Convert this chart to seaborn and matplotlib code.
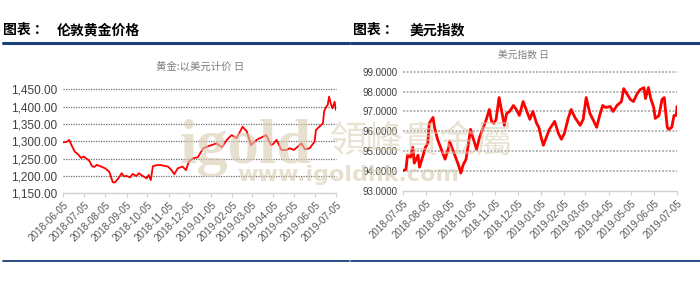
import matplotlib
matplotlib.use("Agg")
import matplotlib.pyplot as plt
from matplotlib.ticker import FuncFormatter
import seaborn as sns
import pandas as pd

# ---------------- data ----------------
gold_dates = [
    "2018-06-05", "2018-06-10", "2018-06-14", "2018-06-17", "2018-06-22", "2018-06-27",
    "2018-07-01", "2018-07-05", "2018-07-09", "2018-07-13", "2018-07-17", "2018-07-20",
    "2018-07-24", "2018-07-28", "2018-08-05", "2018-08-11", "2018-08-14", "2018-08-16",
    "2018-08-19", "2018-08-24", "2018-08-29", "2018-09-01", "2018-09-05", "2018-09-10",
    "2018-09-14", "2018-09-19", "2018-09-23", "2018-09-26", "2018-10-04", "2018-10-07",
    "2018-10-10", "2018-10-13", "2018-10-18", "2018-10-23", "2018-10-30", "2018-11-04",
    "2018-11-09", "2018-11-13", "2018-11-18", "2018-11-25", "2018-11-30", "2018-12-04",
    "2018-12-10", "2018-12-17", "2018-12-25", "2019-01-03", "2019-01-13", "2019-01-21",
    "2019-01-28", "2019-02-04", "2019-02-11", "2019-02-20", "2019-02-26", "2019-03-04",
    "2019-03-12", "2019-03-21", "2019-03-26", "2019-04-02", "2019-04-05", "2019-04-10",
    "2019-04-17", "2019-04-24", "2019-04-29", "2019-05-05", "2019-05-11", "2019-05-16",
    "2019-05-21", "2019-05-28", "2019-06-04", "2019-06-06", "2019-06-11", "2019-06-16",
    "2019-06-18", "2019-06-21", "2019-06-23", "2019-06-25", "2019-06-28", "2019-06-30",
    "2019-07-03", "2019-07-05",
]
gold_values = [
    1297, 1298, 1304, 1290, 1270, 1262,
    1252, 1256, 1250, 1244, 1228, 1226,
    1232, 1229, 1222, 1212, 1194, 1182,
    1181, 1193, 1208, 1199, 1200, 1196,
    1206, 1200, 1208, 1203, 1193, 1203,
    1188, 1228, 1231, 1232, 1229, 1227,
    1217, 1205, 1222, 1227, 1217, 1241,
    1251, 1254, 1280, 1287, 1294, 1283,
    1304, 1318, 1309, 1342, 1328, 1289,
    1304, 1313, 1318, 1289, 1292, 1304,
    1275, 1275, 1280, 1275, 1285, 1294,
    1277, 1280, 1299, 1333, 1342, 1352,
    1388, 1400, 1405, 1429, 1405, 1395,
    1414, 1390,
]

usd_dates = [
    "2018-07-05", "2018-07-09", "2018-07-11", "2018-07-15", "2018-07-18", "2018-07-20",
    "2018-07-25", "2018-07-27", "2018-07-31", "2018-08-04", "2018-08-07", "2018-08-09",
    "2018-08-14", "2018-08-16", "2018-08-20", "2018-08-25", "2018-08-30", "2018-09-04",
    "2018-09-05", "2018-09-09", "2018-09-14", "2018-09-17", "2018-09-20", "2018-09-23",
    "2018-09-27", "2018-10-01", "2018-10-03", "2018-10-06", "2018-10-11", "2018-10-15",
    "2018-10-19", "2018-10-24", "2018-10-28", "2018-10-31", "2018-11-03", "2018-11-06",
    "2018-11-10", "2018-11-13", "2018-11-17", "2018-11-20", "2018-11-24", "2018-11-29",
    "2018-12-03", "2018-12-07", "2018-12-12", "2018-12-16", "2018-12-21", "2018-12-25",
    "2018-12-30", "2019-01-02", "2019-01-05", "2019-01-08", "2019-01-12", "2019-01-16",
    "2019-01-23", "2019-01-28", "2019-02-01", "2019-02-05", "2019-02-10", "2019-02-14",
    "2019-02-19", "2019-02-26", "2019-03-02", "2019-03-06", "2019-03-11", "2019-03-15",
    "2019-03-20", "2019-03-24", "2019-03-28", "2019-04-01", "2019-04-07", "2019-04-11",
    "2019-04-16", "2019-04-22", "2019-04-25", "2019-04-29", "2019-05-04", "2019-05-08",
    "2019-05-13", "2019-05-17", "2019-05-22", "2019-05-24", "2019-05-28", "2019-05-31",
    "2019-06-04", "2019-06-06", "2019-06-11", "2019-06-15", "2019-06-18", "2019-06-22",
    "2019-06-24", "2019-06-28", "2019-07-01", "2019-07-04", "2019-07-05",
]
usd_values = [
    94.02, 94.09, 94.80, 94.70, 95.20, 94.40,
    94.80, 94.20, 94.70, 95.20, 95.40, 96.40,
    96.70, 96.20, 95.60, 95.10, 94.60, 95.20,
    95.50, 95.10, 94.60, 94.30, 93.90, 94.30,
    94.60, 95.60, 96.10, 95.70, 95.10, 95.70,
    96.10, 96.60, 97.10, 96.50, 96.40, 96.60,
    97.70, 97.10, 96.30, 96.90, 97.00, 97.30,
    97.10, 96.80, 97.50, 97.10, 96.60, 97.00,
    96.40, 96.20, 95.70, 95.30, 95.70, 96.10,
    96.50, 95.90, 95.60, 95.90, 96.65, 97.10,
    96.70, 96.30, 96.60, 97.70, 96.90, 96.60,
    96.20, 96.80, 97.30, 97.20, 97.25, 97.00,
    97.30, 97.50, 98.15, 97.90, 97.60, 97.50,
    97.90, 98.10, 98.20, 97.65, 98.20, 97.65,
    97.20, 96.65, 96.80, 97.60, 97.70, 96.20,
    96.10, 96.20, 96.80, 96.80, 97.25,
]

gold_ticks = ["2018-06-05", "2018-07-05", "2018-08-05", "2018-09-05", "2018-10-05",
              "2018-11-05", "2018-12-05", "2019-01-05", "2019-02-05", "2019-03-05",
              "2019-04-05", "2019-05-05", "2019-06-05", "2019-07-05"]
usd_ticks = gold_ticks[1:]
gold_yticks = [1150, 1200, 1250, 1300, 1350, 1400, 1450]
usd_yticks = [93, 94, 95, 96, 97, 98, 99]

# ---------------- figure ----------------
sns.set_theme(style="white")
plt.rcParams["font.family"] = ["Liberation Sans", "Noto Sans CJK SC", "DejaVu Sans"]
CJK = ["Noto Sans CJK SC", "DejaVu Sans"]

fig = plt.figure(figsize=(7.0, 2.88), dpi=100)
W, H = 700, 288

def fx(px):
    return px / W

def fy(py):
    return 1 - py / H

navy = "#1a3f7a"

# watermark (drawn first, behind everything)
wm = "#d8ccb0"
fig.text(fx(180), fy(163), "igold", family=["Liberation Serif", "DejaVu Serif"],
         fontsize=45, fontweight="bold", color=wm, alpha=0.6, ha="left", va="baseline",
         zorder=0)
fig.text(fx(330), fy(141), "領峰貴金屬", family=["Noto Sans CJK TC", "DejaVu Sans"],
         fontsize=26.5, color=wm, alpha=0.55, ha="left", va="center", zorder=0)
fig.text(fx(237), fy(175), "www.igoldhk.com", family=["DejaVu Sans"],
         fontsize=16, fontweight="bold", color=wm, alpha=0.6, ha="left", va="center",
         zorder=0)

# header titles and rules
fig.text(fx(3), fy(30), "图表 ：", family=CJK, fontsize=10, fontweight="bold",
         color="black", va="center", ha="left")
fig.text(fx(57), fy(30), "伦敦黄金价格", family=CJK, fontsize=10, fontweight="bold",
         color="black", va="center", ha="left")
fig.text(fx(353), fy(30), "图表 ：", family=CJK, fontsize=10, fontweight="bold",
         color="black", va="center", ha="left")
fig.text(fx(410), fy(30), "美元指数", family=CJK, fontsize=10, fontweight="bold",
         color="black", va="center", ha="left")
for x0, x1 in [(3, 349), (351, 700)]:
    fig.add_artist(plt.Line2D([fx(x0), fx(x1)], [fy(42.5), fy(42.5)], color=navy,
                              lw=2.2, transform=fig.transFigure))
    fig.add_artist(plt.Line2D([fx(x0), fx(x1)], [fy(260.5), fy(260.5)], color=navy,
                              lw=1.3, transform=fig.transFigure))

# axes
ax1 = fig.add_axes([fx(63), fy(193.3), (336 - 63) / W, (193.3 - 89.3) / H])
ax2 = fig.add_axes([fx(403), fy(191), (677 - 403) / W, (191 - 71.7) / H])

gold_df = pd.DataFrame({"date": pd.to_datetime(gold_dates), "value": gold_values})
usd_df = pd.DataFrame({"date": pd.to_datetime(usd_dates), "value": usd_values})

sns.lineplot(data=gold_df, x="date", y="value", ax=ax1, color="#ff0000", lw=1.3, zorder=3)
sns.lineplot(data=usd_df, x="date", y="value", ax=ax2, color="#ff0000", lw=2.0, zorder=3)

def style_axis(ax, ticks, yticks, fmt, ysize, xsize, gridcolor, gridlw, gridls):
    ax.set_xlim(pd.Timestamp(ticks[0]), pd.Timestamp(ticks[-1]))
    ax.set_ylim(yticks[0], yticks[-1])
    ax.set_yticks(yticks)
    ax.yaxis.set_major_formatter(FuncFormatter(fmt))
    ax.set_xticks(pd.to_datetime(ticks))
    ax.set_xticklabels(ticks, rotation=45, ha="right", rotation_mode="anchor",
                       fontsize=xsize, color="#595959")
    ax.tick_params(axis="y", length=0, labelsize=ysize, labelcolor="#404040", pad=4)
    ax.tick_params(axis="x", length=3, width=0.8, color="#d0d0d0", pad=2, bottom=True)
    for s in ["top", "right", "left"]:
        ax.spines[s].set_visible(False)
    ax.spines["bottom"].set_color("#d0d0d0")
    ax.spines["bottom"].set_linewidth(1.0)
    for yv in yticks[1:]:
        ax.axhline(yv, color=gridcolor, lw=gridlw, ls=gridls, zorder=1, clip_on=False)
    ax.set_xlabel("")
    ax.set_ylabel("")
    ax.set_facecolor("none")
    ax.grid(False)

style_axis(ax1, gold_ticks, gold_yticks, lambda v, p: f"{v:,.2f}", 8.5, 7.2,
           "#707070", 0.9, (0, (1, 1)))
style_axis(ax2, usd_ticks, usd_yticks, lambda v, p: f"{v:.4f}", 7.0, 7.0,
           "#b5b5b5", 1.4, (0, (1, 0.8)))

# chart subtitles
fig.text(fx(200), fy(67), "黄金:以美元计价 日", family=CJK, fontsize=7.5,
         color="#7f7f7f", ha="center", va="center")
fig.text(fx(523), fy(55), "美元指数 日", family=CJK, fontsize=7,
         color="#7f7f7f", ha="center", va="center")

fig.savefig("out.png", dpi=100, facecolor="white")
